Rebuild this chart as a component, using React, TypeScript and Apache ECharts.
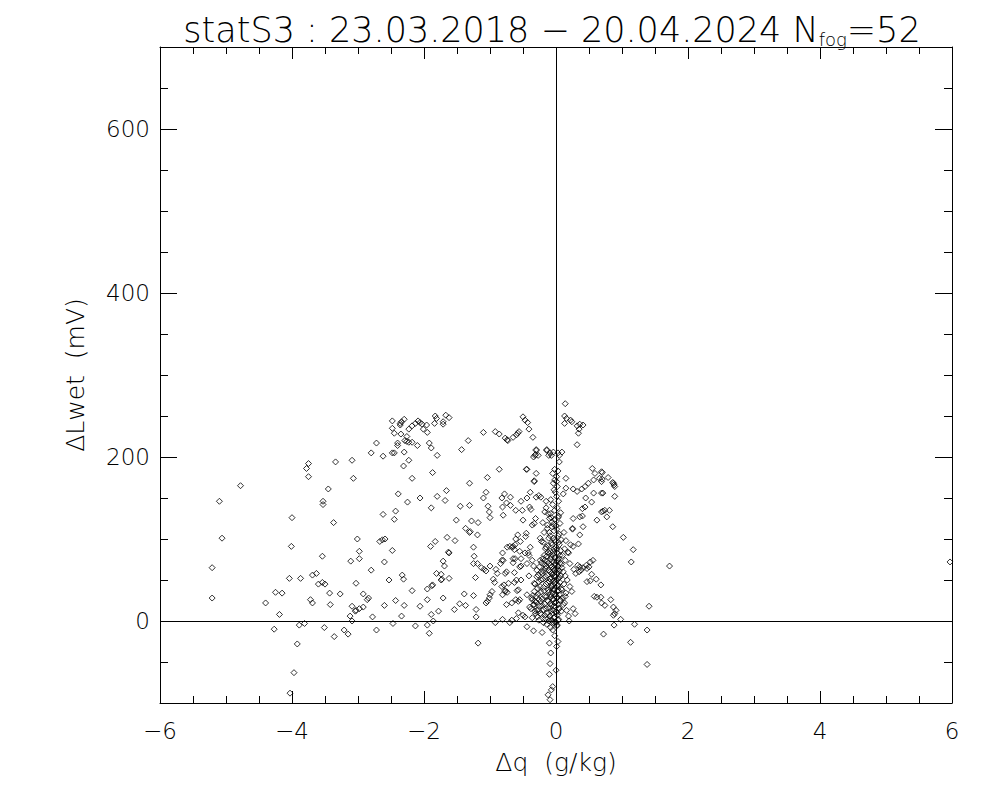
import React, { useEffect, useRef } from 'react';
import * as echarts from 'echarts';

type Pt = [number, number];

const titleMain = 'statS3 : 23.03.2018 − 20.04.2024 N';
const titleSub = 'fog';
const titleEnd = '=52';
const xName = 'Δq  (g/kg)';
const yName = 'ΔLwet  (mV)';
const xRange = [-6, 6];
const yRange = [-100, 700];
const yMajorTicks = [0, 200, 400, 600];

const leftScatter: Pt[] = [
  [-3.75, 192], [-3.34, 194], [-3.09, 196], [-3.78, 186], [-3.75, 176], [-3.07, 174], [-4.78, 165],
  [-3.45, 161], [-5.10, 146], [-3.53, 146], [-3.53, 142], [-4.00, 126], [-3.37, 120], [-5.06, 101],
  [-3.01, 100], [-4.01, 91], [-3.54, 79], [-5.21, 65], [-3.11, 73], [-2.98, 85], [-2.98, 76],
  [-4.04, 52], [-3.87, 52], [-3.69, 56], [-3.63, 58], [-3.60, 45], [-3.54, 47], [-3.50, 45],
  [-3.03, 46], [-4.25, 35], [-4.15, 34], [-3.43, 34], [-3.27, 33], [-5.21, 28], [-3.72, 26],
  [-3.69, 22], [-4.40, 22], [-3.42, 20], [-3.09, 18], [-3.04, 12], [-2.98, 15], [-4.19, 8],
  [-3.12, 6], [-3.09, 0], [-3.89, -5], [-3.81, -3], [-4.27, -10], [-3.51, -8], [-3.21, -11],
  [-3.15, -16], [-3.36, -19], [-3.92, -28], [-3.97, -63], [-4.03, -88],
];

const upperArc: Pt[] = [
  [-2.30, 246], [-2.36, 241], [-2.34, 243], [-2.36, 239], [-2.48, 244], [-1.83, 250], [-1.81, 247],
  [-1.67, 251], [-1.62, 248], [-1.71, 243], [-1.71, 240], [-1.84, 241], [-1.96, 239], [-2.03, 240],
  [-2.06, 242], [-2.09, 244], [-2.01, 234], [-1.95, 230], [-2.13, 241], [-2.18, 238], [-2.23, 234],
  [-2.48, 235], [-2.45, 229], [-2.35, 228], [-2.26, 225], [-2.29, 220], [-2.26, 219], [-2.23, 218],
  [-2.18, 218], [-2.40, 217], [-2.40, 214], [-2.72, 217], [-2.10, 214], [-1.92, 217], [-1.89, 211],
  [-1.33, 220], [-1.43, 209], [-1.10, 230], [-0.92, 231], [-0.86, 228], [-0.77, 223], [-0.73, 220],
  [-0.65, 224], [-0.58, 229], [-0.56, 231], [-0.50, 249], [-0.47, 245], [-0.43, 242], [-0.41, 234],
  [-0.35, 224], [-0.30, 209], [-0.14, 209], [-0.31, 203], [-0.34, 200], [-0.11, 202], [-2.80, 205],
  [-2.62, 201], [-2.48, 205], [-2.45, 205], [-2.30, 206], [-1.80, 202], [-2.23, 196], [-2.31, 189],
  [-1.87, 181], [-0.86, 185], [-0.45, 185], [-0.30, 180], [-2.18, 174], [-1.04, 175], [-0.33, 170],
  [-1.31, 168], [-1.66, 159], [-1.06, 157], [-2.39, 155], [-1.80, 152], [-2.06, 150], [-1.68, 147],
  [-2.25, 145], [-1.10, 150], [-0.78, 155], [-0.82, 150], [-0.69, 151], [-0.39, 157], [-0.44, 150],
  [-0.53, 146], [-0.30, 151], [-0.26, 153], [-0.23, 151], [-0.75, 144], [-0.69, 141], [-0.81, 139],
  [-0.61, 135], [-0.51, 135], [-0.40, 139], [-0.38, 136], [-1.03, 140], [-1.01, 133], [-1.00, 126],
  [-1.31, 141], [-1.45, 140], [-1.89, 138], [-2.43, 134], [-2.62, 130], [-2.45, 124], [-0.80, 129],
  [-1.51, 123], [-1.28, 122], [-1.18, 120], [-0.50, 123], [-0.31, 125], [-0.33, 119], [-0.36, 117],
  [-0.15, 138], [-0.17, 133], [-0.12, 131], [-0.13, 113], [-1.37, 113], [-1.30, 109], [-1.31, 108],
  [-1.19, 105], [-1.65, 102], [-1.53, 98], [-2.67, 97], [-2.63, 99], [-2.59, 100], [-1.83, 97],
  [-1.90, 91], [-1.25, 90], [-0.58, 105], [-0.45, 107], [-0.61, 100], [-0.46, 103], [-0.54, 97],
  [-0.65, 91], [-0.74, 90], [-0.39, 90], [-0.24, 101], [-0.22, 97], [-0.60, 227], [-0.74, 221],
  [-0.30, 208], [-0.32, 202], [-0.27, 202],
];

const lowerMiddle: Pt[] = [
  [-2.48, 86], [-1.63, 84], [-1.62, 83], [-1.24, 79], [-1.25, 70], [-1.19, 70], [-2.60, 72],
  [-2.80, 62], [-1.71, 73], [-1.69, 67], [-1.81, 58], [-1.74, 57], [-1.62, 52], [-1.74, 50],
  [-2.33, 56], [-2.31, 51], [-2.53, 50], [-1.22, 53], [-1.13, 65], [-1.09, 63], [-1.06, 61],
  [-1.00, 67], [-0.91, 63], [-0.89, 58], [-0.81, 83], [-0.82, 74], [-0.84, 70], [-0.66, 90],
  [-0.63, 87], [-0.55, 85], [-0.47, 83], [-0.41, 80], [-0.65, 76], [-0.65, 71], [-0.53, 76],
  [-0.53, 67], [-0.63, 59], [-0.75, 60], [-0.77, 58], [-0.41, 55], [-0.34, 67], [-0.36, 74],
  [-0.95, 51], [-0.93, 47], [-0.79, 44], [-0.77, 37], [-0.81, 32], [-0.74, 35], [-0.63, 47],
  [-0.53, 50], [-0.59, 37], [-0.97, 36], [-1.00, 32], [-1.01, 28], [-1.06, 22], [-1.04, 24],
  [-0.61, 26], [-0.57, 24], [-0.44, 32], [-0.37, 28], [-0.32, 24], [-0.40, 17], [-0.33, 46],
  [-0.29, 54], [-0.22, 60], [-2.92, 33], [-2.84, 28], [-2.86, 26], [-2.18, 37], [-1.95, 39],
  [-1.87, 44], [-1.88, 43], [-1.73, 51], [-1.39, 33], [-1.25, 31], [-1.71, 28], [-1.95, 26],
  [-2.43, 25], [-2.60, 19], [-2.30, 19], [-2.06, 18], [-1.46, 21], [-1.37, 19], [-1.54, 14],
  [-1.21, 14], [-1.21, 5], [-3.03, 13], [-2.92, 17], [-1.78, 12], [-1.89, 8], [-2.78, 5],
  [-2.34, 6], [-1.95, -5], [-1.86, 0], [-2.13, -6], [-2.47, -3], [-2.72, -11], [-1.92, -15],
  [-1.18, -27], [-0.92, -2], [-0.81, 2], [-0.70, -2], [-0.60, 3], [-0.57, 10], [-0.50, 7],
  [-0.44, -7], [-0.34, -12], [-0.21, -14], [-0.70, 91], [-0.62, 93], [-0.80, 74], [-0.82, 42],
  [-0.77, 36], [-0.72, 46], [-0.60, 50], [-0.55, 66], [-0.62, 76], [-0.44, 70], [-0.42, 83],
  [-0.57, 38], [-0.75, 20], [-0.67, 22], [-0.55, 26], [-0.47, 5], [-0.67, 1],
];

const rightBranch: Pt[] = [
  [0.14, 265], [0.13, 250], [0.16, 247], [0.13, 241], [0.22, 245], [0.24, 243], [0.32, 238],
  [0.36, 240], [0.41, 239], [0.35, 234], [0.34, 229], [0.32, 215], [-0.14, 208], [-0.09, 205],
  [-0.07, 202], [-0.04, 206], [0.03, 205], [0.09, 206], [0.05, 202], [0.05, 194], [-0.44, 185],
  [-0.05, 180], [0.03, 183], [-0.33, 171], [0.01, 170], [-0.02, 172], [0.15, 174], [0.55, 186],
  [0.59, 180], [0.57, 172], [0.69, 182], [0.66, 174], [0.79, 175], [0.87, 168], [0.89, 164],
  [0.49, 168], [0.44, 164], [0.39, 161], [0.32, 158], [0.26, 161], [0.15, 162], [0.11, 155],
  [0.89, 152], [0.69, 156], [0.57, 156], [0.45, 150], [0.54, 145], [0.44, 139], [0.40, 137],
  [0.69, 133], [0.74, 135], [0.81, 135], [0.77, 127], [0.62, 123], [0.26, 125], [0.36, 127],
  [0.40, 128], [0.41, 115], [0.25, 113], [0.86, 115], [0.70, 181], [0.70, 173], [0.69, 170],
  [0.86, 169], [0.88, 166], [0.71, 156], [0.71, 134], [1.02, 102], [1.17, 87], [1.14, 72],
  [1.72, 67], [0.68, 44], [0.68, 29], [0.83, 26], [0.69, 22], [0.74, 19], [0.87, 17], [0.91, 13],
  [0.87, 7], [0.89, 9], [0.98, 2], [1.41, 18], [0.88, -5], [1.19, -4], [0.72, -16], [1.38, -11],
  [1.13, -26], [1.38, -53], [5.97, 72], [0.34, 94], [0.25, 112], [0.36, 105], [0.26, 91],
  [0.19, 83], [0.22, 93], [0.14, 74], [0.21, 70], [0.41, 65], [0.47, 64], [0.36, 66], [0.52, 72],
  [0.56, 74], [0.54, 57], [0.47, 48], [0.61, 51], [0.52, 49], [0.58, 30], [0.62, 29], [0.21, 42],
  [0.24, 36], [0.26, 15], [0.29, 9], [0.20, 0], [0.14, 30], [0.06, 26], [0.11, 20], [0.16, 13],
];

const centralCore: Pt[] = [
  [-0.05, 142], [0.02, 138], [-0.08, 131], [0.04, 128], [-0.02, 124], [0.06, 119], [-0.06, 115],
  [0.01, 112], [-0.10, 108], [0.03, 104], [-0.04, 101], [0.08, 99], [-0.01, 97], [-0.07, 95],
  [0.05, 93], [-0.12, 92], [0.00, 90], [-0.03, 88], [0.07, 86], [-0.09, 85], [0.02, 83],
  [-0.05, 81], [0.10, 80], [-0.14, 79], [-0.01, 78], [0.04, 76], [-0.08, 75], [0.01, 73],
  [-0.04, 72], [0.06, 71], [-0.11, 70], [-0.02, 68], [0.03, 67], [-0.06, 66], [0.09, 65],
  [-0.16, 64], [0.00, 63], [-0.03, 62], [0.05, 61], [-0.09, 60], [0.02, 58], [-0.05, 57],
  [-0.13, 56], [0.07, 55], [-0.01, 54], [-0.07, 53], [0.04, 52], [-0.20, 51], [0.01, 50],
  [-0.04, 49], [-0.10, 48], [0.06, 47], [-0.02, 46], [-0.15, 45], [0.03, 44], [-0.06, 43],
  [-0.24, 42], [0.00, 41], [-0.08, 40], [0.08, 39], [-0.03, 38], [-0.18, 37], [0.02, 36],
  [-0.11, 35], [-0.05, 34], [-0.27, 33], [0.05, 32], [-0.01, 31], [-0.14, 30], [-0.08, 29],
  [0.01, 28], [-0.21, 27], [-0.04, 26], [0.07, 25], [-0.12, 24], [-0.30, 23], [-0.02, 22],
  [-0.17, 21], [0.03, 20], [-0.07, 19], [-0.25, 18], [-0.01, 17], [-0.10, 16], [0.05, 15],
  [-0.19, 14], [-0.04, 13], [-0.32, 12], [0.00, 11], [-0.13, 10], [-0.06, 9], [-0.22, 8],
  [0.02, 7], [-0.09, 6], [-0.28, 5], [-0.03, 4], [-0.16, 3], [0.04, 2], [-0.07, 1], [-0.11, 0],
  [-0.01, -1], [-0.19, -2], [-0.05, -3], [0.01, -6], [-0.08, -8], [-0.20, 76], [-0.17, 74],
  [-0.22, 71], [-0.18, 69], [-0.25, 66], [-0.28, 40], [-0.33, 36], [-0.30, 30], [-0.36, 26],
  [-0.34, 20], [-0.38, 15], [-0.31, 9], [-0.27, 14], [-0.23, 24], [-0.26, 48], [-0.21, 58],
  [-0.29, 62], [-0.12, 84], [-0.16, 88], [-0.19, 96], [-0.09, 104], [-0.13, 117], [-0.07, 126],
  [0.12, 108], [0.15, 98], [0.13, 88], [0.18, 84], [0.11, 60], [0.14, 55], [0.17, 50], [0.12, 45],
  [0.09, 38], [0.15, 34], [0.10, 28], [0.13, 22], [0.08, 12], [0.19, 6], [0.27, 63], [0.30, 58],
  [0.35, 60], [0.38, 62], [0.33, 68], [0.46, 68], [0.50, 66], [-0.03, 160], [0.01, 152],
  [-0.08, 148], [-0.15, 146], [0.04, 146], [-0.10, 125], [-0.20, 120], [-0.04, 118], [0.07, 132],
  [-0.18, 108],
];

const coreExtra: Pt[] = [
  [-0.02, 135], [0.03, 126], [-0.06, 121], [0.00, 116], [-0.03, 110], [0.05, 106], [-0.11, 101],
  [-0.02, 99], [0.04, 96], [-0.06, 93], [-0.15, 90], [0.01, 87], [-0.04, 85], [-0.10, 82],
  [0.06, 80], [-0.02, 77], [-0.18, 80], [-0.07, 78], [0.03, 74], [-0.13, 73], [-0.24, 74],
  [-0.01, 70], [0.08, 69], [-0.08, 68], [-0.15, 67], [-0.04, 64], [0.03, 63], [-0.11, 62],
  [-0.19, 61], [0.01, 59], [-0.07, 58], [-0.27, 56], [-0.03, 55], [-0.16, 54], [0.05, 53],
  [-0.09, 51], [-0.23, 50], [-0.01, 48], [-0.13, 47], [-0.32, 45], [0.02, 43], [-0.07, 42],
  [-0.19, 41], [-0.04, 39], [-0.12, 38], [0.04, 37], [-0.23, 35], [-0.01, 33], [-0.09, 32],
  [-0.35, 31], [-0.17, 30], [0.02, 29], [-0.05, 27], [-0.26, 26], [-0.13, 25], [0.00, 23],
  [-0.09, 21], [-0.33, 20], [-0.21, 19], [-0.03, 18], [0.04, 16], [-0.15, 15], [-0.29, 13],
  [-0.08, 12], [0.01, 10], [-0.24, 9], [-0.17, 7], [-0.02, 5], [-0.36, 4], [-0.12, 3], [0.03, 1],
  [-0.26, 1], [-0.05, -1], [-0.14, -4], [0.00, -2], [-0.02, 185], [0.01, 176], [-0.04, 168],
  [0.02, 164], [-0.01, 157],
];

const negativeTail: Pt[] = [
  [-0.10, -27], [-0.08, -39], [-0.09, -52], [-0.10, -65], [-0.05, -80], [-0.07, -84], [-0.12, -90],
  [-0.09, -96], [0.00, -60], [0.01, -31], [0.03, -25], [-0.05, -11], [-0.02, -18], [0.02, -5],
];

const FONT = '"DejaVu Sans", sans-serif';

const fmt = (v: number) => (v < 0 ? '\u2212' + Math.abs(v) : String(v));

export default function App() {
  const ref = useRef<HTMLDivElement>(null);
  useEffect(() => {
    if (!ref.current) return;
    const chart = echarts.init(ref.current, undefined, { renderer: 'svg' });
    const allPoints = [
      ...leftScatter, ...upperArc, ...lowerMiddle, ...rightBranch, ...centralCore, ...coreExtra, ...negativeTail,
    ];
    const black = '#000';
    const labelStyle = { color: black, fontSize: 23, fontFamily: FONT, fontWeight: 200 as any };
    const line = { color: black, width: 1 };
    const baseX = {
      type: 'value' as const,
      min: xRange[0],
      max: xRange[1],
      interval: 2,
      axisLine: { show: true, onZero: false, lineStyle: line },
      axisTick: { show: true, inside: true, length: 12, lineStyle: line },
      minorTick: { show: true, splitNumber: 4, length: 7, lineStyle: line },
      splitLine: { show: false },
      minorSplitLine: { show: false },
    };
    const minorY = {
      type: 'value' as const,
      min: yRange[0],
      max: yRange[1],
      interval: 50,
      axisLine: { show: true, onZero: false, lineStyle: line },
      axisTick: { show: true, inside: true, length: 8, lineStyle: line },
      axisLabel: { show: false },
      splitLine: { show: false },
    };
    const majorY = {
      type: 'value' as const,
      min: yRange[0],
      max: yRange[1],
      axisLine: { show: false, onZero: false },
      axisTick: { show: true, inside: true, length: 17, lineStyle: line, customValues: yMajorTicks },
      splitLine: { show: false },
    };
    chart.setOption({
      animation: false,
      backgroundColor: '#fff',
      grid: { left: 160, right: 48, top: 47, bottom: 97, containLabel: false },
      graphic: [
        {
          type: 'text',
          x: 552,
          y: 8,
          style: {
            text: titleMain + '{sub|' + titleSub + '}' + titleEnd,
            fontSize: 35,
            fontFamily: FONT,
            fontWeight: 200,
            lineHeight: 44,
            fill: black,
            align: 'center',
            verticalAlign: 'top',
            rich: {
              sub: {
                fontSize: 18, fontFamily: FONT, fontWeight: 200, lineHeight: 18,
                verticalAlign: 'bottom', padding: [0, 0, 4, 0], fill: black,
              },
            },
          },
        },
      ],
      xAxis: [
        {
          ...baseX,
          position: 'bottom',
          axisLabel: { ...labelStyle, margin: 16, formatter: fmt },
          name: xName,
          nameLocation: 'middle',
          nameGap: 47,
          nameTextStyle: { color: black, fontSize: 25, fontFamily: FONT, fontWeight: 200 },
        },
        { ...baseX, position: 'top', axisLabel: { show: false } },
      ],
      yAxis: [
        {
          ...minorY,
          position: 'left',
          name: yName,
          nameLocation: 'middle',
          nameGap: 72,
          nameTextStyle: { color: black, fontSize: 25, fontFamily: FONT, fontWeight: 200 },
        },
        { ...minorY, position: 'right' },
        {
          ...majorY,
          position: 'left',
          axisLabel: { ...labelStyle, margin: 10, formatter: fmt, customValues: yMajorTicks },
        },
        { ...majorY, position: 'right', axisLabel: { show: false } },
      ],
      series: [
        {
          type: 'scatter',
          xAxisIndex: 0,
          yAxisIndex: 0,
          data: allPoints,
          symbol: 'diamond',
          symbolSize: 6,
          itemStyle: { color: 'rgba(0,0,0,0)', borderColor: black, borderWidth: 1 },
          markLine: {
            silent: true,
            symbol: 'none',
            label: { show: false },
            lineStyle: { color: black, width: 1, type: 'solid' },
            data: [{ xAxis: 0 }, { yAxis: 0 }],
          },
        },
      ],
    });
    return () => chart.dispose();
  }, []);
  return (
    <div
      ref={ref}
      style={{ position: 'absolute', left: 0, top: 0, width: 1000, height: 800, background: '#fff' }}
    />
  );
}
